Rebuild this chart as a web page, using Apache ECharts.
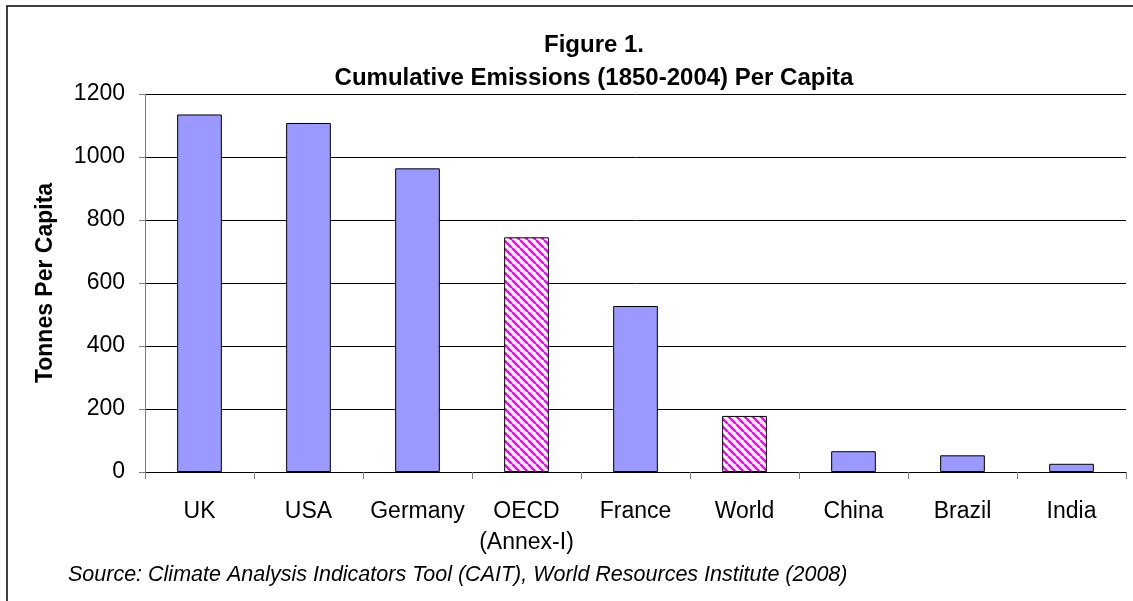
<!DOCTYPE html>
<html>
<head>
<meta charset="utf-8">
<script src="https://cdn.jsdelivr.net/npm/echarts@6/dist/echarts.min.js"></script>
<style>
html,body{margin:0;padding:0;background:#fff;}
#c{width:1133px;height:601px;}
</style>
</head>
<body>
<div id="c"></div>
<script>
const categories = ['UK', 'USA', 'Germany', 'OECD\n(Annex-I)', 'France', 'World', 'China', 'Brazil', 'India'];
const values = [1135, 1108, 964, 745, 527, 178, 66, 53, 26];
const hatched = [false, false, false, true, false, true, false, false, false];
const yTicks = [0, 200, 400, 600, 800, 1000, 1200];

function makePattern() {
  const s = 8;
  const cv = document.createElement('canvas');
  cv.width = s; cv.height = s;
  const ctx = cv.getContext('2d');
  ctx.fillStyle = '#ffffff';
  ctx.fillRect(0, 0, s, s);
  ctx.strokeStyle = '#ff00ff';
  ctx.lineWidth = 2.6;
  ctx.beginPath();
  for (let k = -2; k <= 2; k++) {
    ctx.moveTo(k * s, 0);
    ctx.lineTo(k * s + s, s);
  }
  ctx.stroke();
  return cv;
}
const pattern = { image: makePattern(), repeat: 'repeat' };

const chart = echarts.init(document.getElementById('c'), null, { renderer: 'canvas' });
const font = 'Liberation Sans, Arial, sans-serif';

chart.setOption({
  backgroundColor: '#ffffff',
  animation: false,
  title: {
    text: 'Figure 1.\nCumulative Emissions (1850-2004) Per Capita',
    left: 589, top: 24, textAlign: 'center',
    textStyle: { fontFamily: font, fontWeight: 'bold', fontSize: 24, color: '#000', lineHeight: 33 }
  },
  graphic: [
    { type: 'rect', shape: { x: 7, y: 6, width: 1150, height: 620 }, style: { fill: 'none', stroke: '#000', lineWidth: 1.5 }, silent: true },
    { type: 'text', left: 68, top: 564, style: { text: 'Source: Climate Analysis Indicators Tool (CAIT), World Resources Institute (2008)', font: 'italic 21.5px ' + font, fill: '#000' } }
  ],
  grid: { left: 145, right: 7, top: 94, bottom: 129, containLabel: false },
  xAxis: {
    type: 'category',
    data: categories,
    boundaryGap: true,
    axisLine: { lineStyle: { color: '#000', width: 1 } },
    axisTick: { show: true, alignWithLabel: false, length: 7, lineStyle: { color: '#808080' } },
    axisLabel: { fontFamily: font, fontSize: 23, color: '#000', margin: 24, lineHeight: 31, interval: 0 }
  },
  yAxis: {
    type: 'value',
    min: 0, max: 1200, interval: 200,
    name: 'Tonnes Per Capita',
    nameLocation: 'middle',
    nameGap: 88,
    nameTextStyle: { fontFamily: font, fontWeight: 'bold', fontSize: 23, color: '#000' },
    axisLine: { show: true, lineStyle: { color: '#808080', width: 1 } },
    axisTick: { show: true, length: 6, lineStyle: { color: '#808080' } },
    axisLabel: { fontFamily: font, fontSize: 23, color: '#000', margin: 20,
      formatter: v => yTicks.includes(v) ? String(v) : '' },
    splitLine: { show: true, lineStyle: { color: '#000', width: 1 } }
  },
  series: [{
    type: 'bar',
    barWidth: '41%',
    data: values.map((v, i) => ({
      value: v,
      itemStyle: hatched[i]
        ? { color: pattern, borderColor: '#000', borderWidth: 1 }
        : { color: '#9999ff', borderColor: '#000', borderWidth: 1 }
    }))
  }]
});
</script>
</body>
</html>
